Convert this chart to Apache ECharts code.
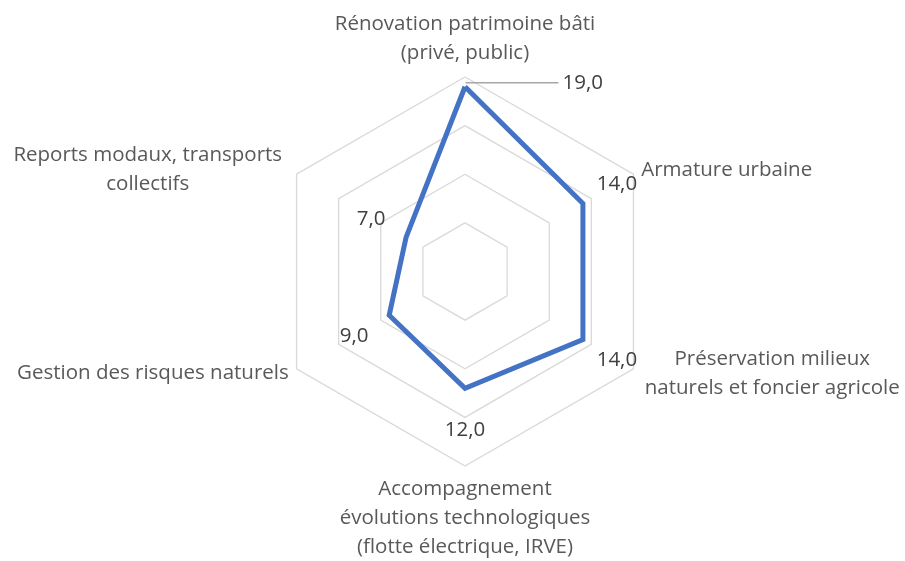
<!DOCTYPE html>
<html><head><meta charset="utf-8">
<script src="https://cdn.jsdelivr.net/npm/echarts@6/dist/echarts.min.js"></script>
<style>html,body{margin:0;padding:0;background:#fff}#c{width:905px;height:561px}</style>
</head><body><div id="c"></div>
<script>
// ---- data (clockwise from top, as in the reference) ----
const categories = [
  'Rénovation patrimoine bâti\n(privé, public)',
  'Armature urbaine',
  'Préservation milieux\nnaturels et foncier agricole',
  'Accompagnement\névolutions technologiques\n(flotte électrique, IRVE)',
  'Gestion des risques naturels',
  'Reports modaux, transports\ncollectifs'
];
const values = [19, 14, 14, 12, 9, 7];
const axisMax = 20;
const splitCount = 4;

// ---- presentation ----
const FONT = 'Open Sans';
const FS = 20.5;
// ECharts lays indicators counter-clockwise: map to that order
const order = [0, 5, 4, 3, 2, 1];
const labelOffsets = [[0, -4], [34, -19], [34, 21], [0, 42], [-35, 21], [-35, -18]];
const blockWidths = [0, 0, 262, 0, 0, 282];

const fmt = v => v.toFixed(1).replace('.', ',');
const ordered = order.map(i => values[i]);

const rich = {};
categories.forEach((c, i) => {
  if (blockWidths[i]) rich['w' + i] = {width: blockWidths[i], align: 'center', fontFamily: FONT, fontSize: FS, color: '#595959', lineHeight: 29};
});

const option = {
  animation: false,
  backgroundColor: '#ffffff',
  radar: {
    center: [465, 271.5],
    radius: 194.5,
    startAngle: 90,
    shape: 'polygon',
    splitNumber: splitCount,
    nameGap: 9,
    indicator: order.map(i => ({name: categories[i], min: 0, max: axisMax})),
    axisName: {
      color: '#595959', fontFamily: FONT, fontSize: FS, lineHeight: 29,
      rich: rich,
      formatter: (name) => {
        const i = categories.indexOf(name);
        if (blockWidths[i]) return name.split('\n').map(l => '{w' + i + '|' + l + '}').join('\n');
        return name;
      }
    },
    axisLine: {show: false},
    axisTick: {show: false},
    axisLabel: {show: false},
    splitArea: {show: false},
    splitLine: {lineStyle: {color: '#D9D9D9', width: 1.3}}
  },
  series: [
    {
      type: 'radar', symbol: 'none', z: 3, silent: true,
      lineStyle: {color: '#4472C4', width: 5, join: 'miter'},
      data: [{value: ordered}]
    }
  ].concat(order.map((catIdx, dimK) => ({
    type: 'radar', symbol: 'circle', symbolSize: 1, z: 4, silent: true,
    itemStyle: {color: 'rgba(0,0,0,0)', borderWidth: 0},
    lineStyle: {width: 0, opacity: 0},
    label: catIdx === 0 ? {
      show: true, position: 'right', distance: 0, offset: labelOffsets[catIdx],
      rich: {
        ln: {width: 93, height: 1.3, backgroundColor: '#A6A6A6'},
        v: {color: '#404040', fontFamily: FONT, fontSize: FS, padding: [0, 0, 0, 4]}
      },
      formatter: p => p.dimensionIndex === dimK ? '{ln| }{v|' + fmt(p.value) + '}' : ''
    } : {
      show: true, position: 'inside', offset: labelOffsets[catIdx],
      color: '#404040', fontFamily: FONT, fontSize: FS,
      formatter: p => p.dimensionIndex === dimK ? fmt(p.value) : ''
    },
    data: [{value: ordered}]
  })))
};

const chart = echarts.init(document.getElementById('c'), null, {renderer: 'canvas'});
chart.setOption(option);
</script>
</body></html>
